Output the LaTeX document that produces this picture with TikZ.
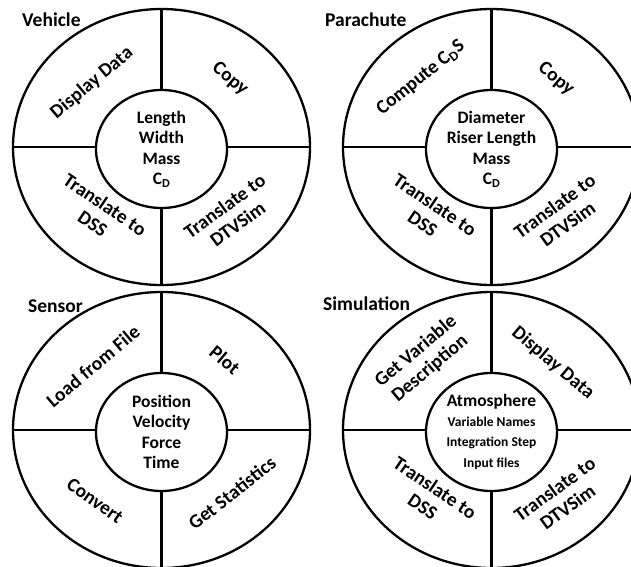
\documentclass[tikz,border=0pt]{standalone}
\usepackage{fontspec}
\setmainfont{Carlito}
\usetikzlibrary{shapes.geometric}
\begin{document}
\begin{tikzpicture}[x=1pt,y=-1pt,
  outerell/.style={ellipse,draw,line width=2.3pt,minimum width=297pt,minimum height=276pt,inner sep=0pt,outer sep=0pt},
  innerell/.style={ellipse,draw,line width=2.3pt,minimum width=131pt,minimum height=118pt,inner sep=0pt,outer sep=0pt,align=center,font=\bfseries\fontsize{17.5}{20.5}\selectfont},
  seg/.style={align=center,font=\bfseries\fontsize{19.5}{22}\selectfont,inner sep=0pt},
  title/.style={anchor=west,font=\bfseries\fontsize{19.5}{22}\selectfont,inner sep=0pt},
  spoke/.style={line width=2.3pt}]
\useasboundingbox (0,0) rectangle (631,566);
\clip (0,0) rectangle (631,566);
% Vehicle
\node[outerell] (vo) at (161.5,147) {};
\node[innerell] (vi) at (161.5,149) {Length\\Width\\Mass\\C\textsubscript{D}};
\draw[spoke] (vo.north) -- (vi.north) (vi.south) -- (vo.south) (vo.west) -- (vi.west |- vo.west) (vi.east |- vo.east) -- (vo.east);
\node[seg,rotate=40] (v1) at (92,83) {Display Data};
\node[seg,rotate=-40] (v2) at (230,79) {Copy};
\node[seg,rotate=-34] (v3) at (99,214) {Translate to\\DSS};
\node[seg,rotate=36] (v4) at (231,215) {Translate to\\DTVSim};
\node[title] (vt) at (22,20) {Vehicle};
% Parachute
\node[outerell] (po) at (491.5,147) {};
\node[innerell] (pi) at (491.5,149) {Diameter\\Riser Length\\Mass\\C\textsubscript{D}};
\draw[spoke] (po.north) -- (pi.north) (pi.south) -- (po.south) (po.west) -- (pi.west |- po.west) (pi.east |- po.east) -- (po.east);
\node[seg,rotate=39] (p1) at (421,78) {Compute C\textsubscript{D}S};
\node[seg,rotate=-40] (p2) at (556,79) {Copy};
\node[seg,rotate=-34] (p3) at (429,214) {Translate to\\DSS};
\node[seg,rotate=36] (p4) at (561,215) {Translate to\\DTVSim};
\node[title] (pt) at (325,20) {Parachute};
% Sensor
\node[outerell] (so) at (161.5,430) {};
\node[innerell] (si) at (161.5,432) {Position\\Velocity\\Force\\Time};
\draw[spoke] (so.north) -- (si.north) (si.south) -- (so.south) (so.west) -- (si.west |- so.west) (si.east |- so.east) -- (so.east);
\node[seg,rotate=40] (s1) at (93,366) {Load from File};
\node[seg,rotate=-40] (s2) at (225,360) {Plot};
\node[seg,rotate=-35] (s3) at (95,501) {Convert};
\node[seg,rotate=38] (s4) at (232,493) {Get Statistics};
\node[title] (st) at (28,306) {Sensor};
% Simulation
\node[outerell] (mo) at (491.5,430) {};
\node[innerell] (mi) at (491.5,432) {\fontsize{17.5}{19}\selectfont Atmosphere\\[-1pt]\fontsize{13.5}{15.5}\selectfont Variable Names\\\fontsize{13.5}{15.5}\selectfont Integration Step\\\fontsize{13.5}{15.5}\selectfont Input files};
\draw[spoke] (mo.north) -- (mi.north) (mi.south) -- (mo.south) (mo.west) -- (mi.west |- mo.west) (mi.east |- mo.east) -- (mo.east);
\node[seg,rotate=40] (m1) at (423,360) {Get Variable\\Description};
\node[seg,rotate=-40] (m2) at (553,363) {Display Data};
\node[seg,rotate=-34] (m3) at (429,497) {Translate to\\DSS};
\node[seg,rotate=36] (m4) at (561,498) {Translate to\\DTVSim};
\node[title] (mt) at (323,304) {Simulation};
\end{tikzpicture}
\end{document}
